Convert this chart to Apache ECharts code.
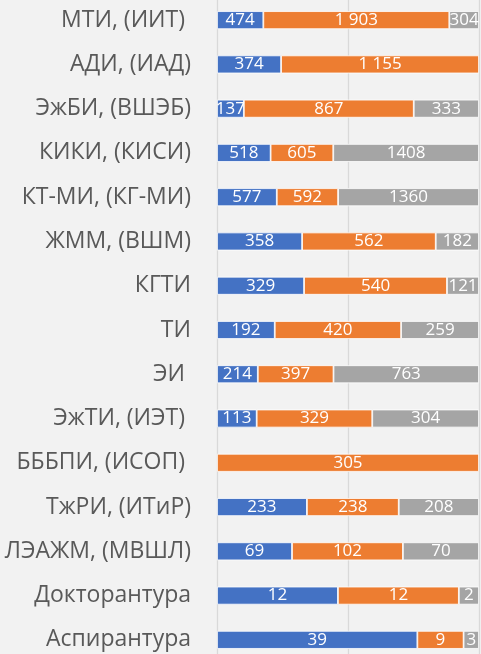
<!DOCTYPE html>
<html>
<head>
<meta charset="utf-8">
<script src="https://cdn.jsdelivr.net/npm/echarts@6/dist/echarts.min.js"></script>
<style>
  html, body {margin: 0; padding: 0; background: #f2f2f2;}
  #chart {width: 481px; height: 654px;}
</style>
</head>
<body>
<div id="chart"></div>
<script>
const categories = [
  'МТИ, (ИИТ) ', 'АДИ, (ИАД)', 'ЭжБИ, (ВШЭБ)', 'КИКИ, (КИСИ)', 'КТ-МИ, (КГ-МИ)',
  'ЖММ, (ВШМ)', 'КГТИ', 'ТИ', 'ЭИ ', 'ЭжТИ, (ИЭТ) ', 'БББПИ, (ИСОП) ',
  'ТжРИ, (ИТиР)', 'ЛЭАЖМ, (МВШЛ)', 'Докторантура', 'Аспирантура'
];
const blueValues = [474, 374, 137, 518, 577, 358, 329, 192, 214, 113, 0, 233, 69, 12, 39];
const orangeValues = [1903, 1155, 867, 605, 592, 562, 540, 420, 397, 329, 305, 238, 102, 12, 9];
const grayValues = [304, 0, 333, 1408, 1360, 182, 121, 259, 763, 304, 0, 208, 70, 2, 3];
const xTicks = [0, 50, 100];

const totals = categories.map((c, i) => blueValues[i] + orangeValues[i] + grayValues[i]);
const toPercent = arr => arr.map((v, i) => v ? v / totals[i] * 100 : null);

const withSpace = v => String(v).replace(/\B(?=(\d{3})+(?!\d))/g, ' ');

const makeSeries = (name, values, color, fmt) => ({
  name,
  type: 'bar',
  stack: 'total',
  barWidth: 18,
  data: toPercent(values),
  itemStyle: {color, borderColor: '#ffffff', borderWidth: 0.8},
  label: {
    show: true,
    position: 'inside',
    color: '#ffffff',
    fontFamily: 'Open Sans',
    fontSize: 17,
    formatter: p => values[p.dataIndex] ? fmt(values[p.dataIndex]) : ''
  }
});

const myChart = echarts.init(document.getElementById('chart'));
myChart.setOption({
  backgroundColor: '#f2f2f2',
  animation: false,
  grid: {left: 217, right: 2, top: -2, bottom: -8, containLabel: false, outerBoundsMode: 'none'},
  xAxis: {
    type: 'value',
    min: xTicks[0],
    max: xTicks[xTicks.length - 1],
    interval: xTicks[1] - xTicks[0],
    axisLabel: {show: false},
    axisLine: {show: false},
    axisTick: {show: false},
    splitLine: {show: true, lineStyle: {color: '#d9d9d9', width: 1.3}}
  },
  yAxis: {
    type: 'category',
    inverse: true,
    data: categories,
    axisLine: {show: false},
    axisTick: {show: false},
    axisLabel: {
      color: '#595959',
      fontFamily: 'Open Sans',
      fontSize: 23,
      margin: 26
    }
  },
  series: [
    makeSeries('blue', blueValues, '#4472c4', v => String(v)),
    makeSeries('orange', orangeValues, '#ed7d31', withSpace),
    makeSeries('gray', grayValues, '#a5a5a5', v => String(v))
  ]
});
</script>
</body>
</html>
